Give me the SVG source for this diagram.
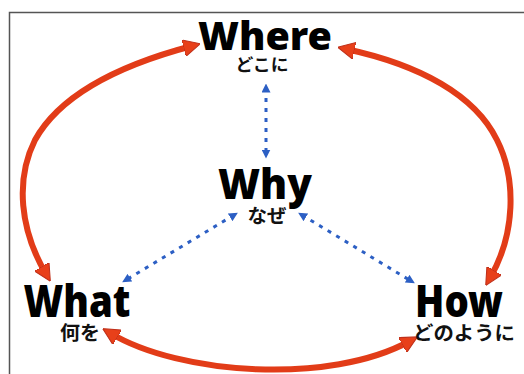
<svg xmlns="http://www.w3.org/2000/svg" width="524" height="374" viewBox="0 0 524 374">
<style>
.en{font-family:"Noto Sans","Liberation Sans",sans-serif;font-weight:900;fill:#000;text-anchor:middle}
.ja{font-family:"Noto Sans CJK JP",sans-serif;font-weight:700;fill:#111;text-anchor:middle}
.red{fill:none;stroke:#e23c18;stroke-width:6;stroke-linecap:round}
.blue{fill:none;stroke:#2c5fc4;stroke-width:3;stroke-dasharray:4 6}
</style>
<defs>
<marker id="rh" viewBox="0 0 16 16" markerUnits="userSpaceOnUse" markerWidth="17" markerHeight="17" refX="8" refY="8" orient="auto-start-reverse">
<path d="M0,0 L16,8 L0,16 z" fill="#e8401a" stroke="#c0301a" stroke-width="1"/>
</marker>
<marker id="bh" viewBox="0 0 10 10" markerUnits="userSpaceOnUse" markerWidth="9" markerHeight="9" refX="5" refY="5" orient="auto-start-reverse">
<path d="M0,0 L10,5 L0,10 z" fill="#2c5fc4"/>
</marker>
</defs>
<rect width="524" height="374" fill="#fff"/>
<path d="M9.5,374 V12.5 H524" fill="none" stroke="#555" stroke-width="1.5"/>
<g id="connectors">
<path class="red" d="M192,46 C120,65 60,95 35,140 C15,180 20,230 46,274" marker-start="url(#rh)" marker-end="url(#rh)"/>
<path class="red" d="M346,49 C420,65 475,95 497,140 C517,180 515,235 490,278" marker-start="url(#rh)" marker-end="url(#rh)"/>
<path class="red" d="M110,333 C180,375 330,385 410,341" marker-start="url(#rh)" marker-end="url(#rh)"/>
<path class="blue" d="M266,88 L266,154" marker-start="url(#bh)" marker-end="url(#bh)"/>
<path class="blue" d="M234,215 L126,280" marker-start="url(#bh)" marker-end="url(#bh)"/>
<path class="blue" d="M302,215 L411,281" marker-start="url(#bh)" marker-end="url(#bh)"/>
</g>
<g id="where">
<text class="en" x="265" y="50" font-size="38" textLength="134" lengthAdjust="spacingAndGlyphs">Where</text>
<text class="ja" x="262" y="71" font-size="17" textLength="53" lengthAdjust="spacingAndGlyphs">どこに</text>
</g>
<g id="why">
<text class="en" x="265" y="199" font-size="42" textLength="94" lengthAdjust="spacingAndGlyphs">Why</text>
<text class="ja" x="267" y="223" font-size="19" textLength="39" lengthAdjust="spacingAndGlyphs">なぜ</text>
</g>
<g id="what">
<text class="en" x="77" y="317" font-size="44" textLength="107" lengthAdjust="spacingAndGlyphs">What</text>
<text class="ja" x="80" y="340" font-size="19" textLength="40" lengthAdjust="spacingAndGlyphs">何を</text>
</g>
<g id="how">
<text class="en" x="459" y="317" font-size="44" textLength="88" lengthAdjust="spacingAndGlyphs">How</text>
<text class="ja" x="464" y="340" font-size="19" textLength="102" lengthAdjust="spacingAndGlyphs">どのように</text>
</g>
</svg>
